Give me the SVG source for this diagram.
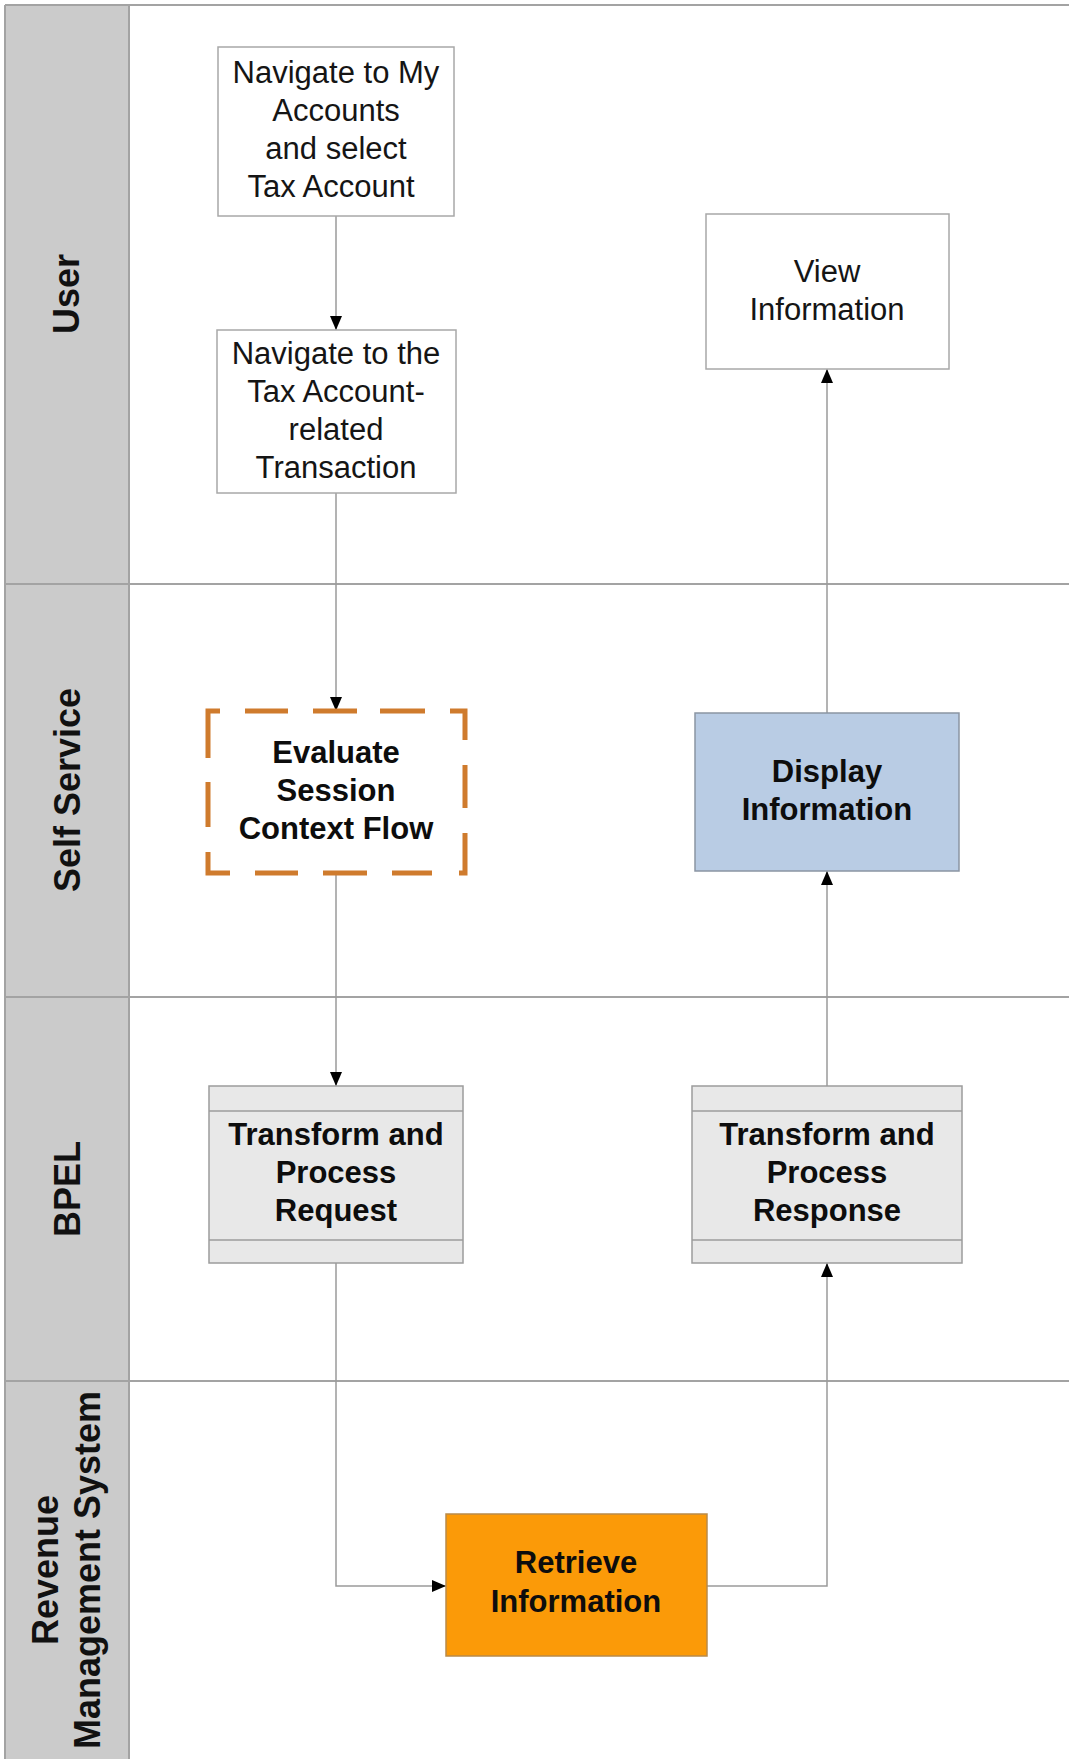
<svg xmlns="http://www.w3.org/2000/svg" width="1069" height="1759" viewBox="0 0 1069 1759">
  <style>
    .lane-head { fill: #cbcbcb; }
    .lane-line { stroke: #a3a3a3; stroke-width: 2; fill: none; }
    .lane-label { font-family: "Liberation Sans", Arial, sans-serif; font-size: 36px; font-weight: bold; fill: #111; text-anchor: middle; }
    .box { fill: #ffffff; stroke: #a8a8a8; stroke-width: 1.5; }
    .txt { font-family: "Liberation Sans", Arial, sans-serif; font-size: 31px; fill: #151515; text-anchor: middle; }
    .bold { font-weight: bold; fill: #0d0d0d; }
    .bpel { fill: #e8e8e8; stroke: #9c9c9c; stroke-width: 1.5; }
    .bpel-sep { stroke: #9c9c9c; stroke-width: 1.5; }
    .conn { fill: none; stroke: #9a9a9a; stroke-width: 1.5; }
    .dash { fill: none; stroke: #cf7b2d; stroke-width: 5; stroke-linecap: butt; }
  </style>
  <defs>
    <marker id="arrow" markerUnits="userSpaceOnUse" markerWidth="14" markerHeight="12" refX="14" refY="6" orient="auto">
      <path d="M0,0 L14,6 L0,12 z" fill="#000"/>
    </marker>
  </defs>

  <rect width="1069" height="1759" fill="#ffffff"/>

  <!-- swimlanes -->
  <g id="lanes">
    <rect class="lane-head" x="5" y="5" width="124" height="1754"/>
    <path class="lane-line" d="M5,5 H1069 M5,5 V1759 M129,5 V1759 M5,584 H1069 M5,997 H1069 M5,1381 H1069"/>
    <text class="lane-label" transform="translate(79,294) rotate(-90)">User</text>
    <text class="lane-label" transform="translate(80,790) rotate(-90)">Self Service</text>
    <text class="lane-label" transform="translate(80,1189) rotate(-90)">BPEL</text>
    <text class="lane-label" transform="translate(58,1570) rotate(-90)">Revenue</text>
    <text class="lane-label" transform="translate(100,1570) rotate(-90)">Management System</text>
  </g>

  <!-- connectors -->
  <g id="connectors">
    <path class="conn" d="M336,216 V330" marker-end="url(#arrow)"/>
    <path class="conn" d="M336,493 V711" marker-end="url(#arrow)"/>
    <path class="conn" d="M336,873 V1086" marker-end="url(#arrow)"/>
    <path class="conn" d="M336,1263 V1586 H446" marker-end="url(#arrow)"/>
    <path class="conn" d="M707,1586 H827 V1263" marker-end="url(#arrow)"/>
    <path class="conn" d="M827,1086 V871" marker-end="url(#arrow)"/>
    <path class="conn" d="M827,713 V369" marker-end="url(#arrow)"/>
  </g>

  <g id="navigate-accounts">
    <rect class="box" x="218" y="47" width="236" height="169"/>
    <text class="txt" x="336" y="83">Navigate to My</text>
    <text class="txt" x="336" y="121">Accounts</text>
    <text class="txt" x="336" y="159">and select</text>
    <text class="txt" x="331" y="197">Tax Account</text>
  </g>

  <g id="navigate-transaction">
    <rect class="box" x="217" y="330" width="239" height="163"/>
    <text class="txt" x="336" y="364">Navigate to the</text>
    <text class="txt" x="336" y="402">Tax Account-</text>
    <text class="txt" x="336" y="440">related</text>
    <text class="txt" x="336" y="478">Transaction</text>
  </g>

  <g id="view-information">
    <rect class="box" x="706" y="214" width="243" height="155"/>
    <text class="txt" x="827" y="282">View</text>
    <text class="txt" x="827" y="320">Information</text>
  </g>

  <g id="evaluate-session">
    <rect x="208" y="711" width="257" height="162" fill="#ffffff"/>
    <path class="dash" d="M208,758 V711 H220 M245,711 H288 M313,711 H357 M380,711 H425 M450,711 H465 V740 M465,765 V808 M465,833 V873 H459 M432,873 H392 M367,873 H323 M298,873 H255 M230,873 H208 V852 M208,827 V782"/>
    <text class="txt bold" x="336" y="763">Evaluate</text>
    <text class="txt bold" x="336" y="801">Session</text>
    <text class="txt bold" x="336" y="839">Context Flow</text>
  </g>

  <g id="display-information">
    <rect x="695" y="713" width="264" height="158" fill="#b9cce4" stroke="#8b95a3" stroke-width="1.5"/>
    <text class="txt bold" x="827" y="782">Display</text>
    <text class="txt bold" x="827" y="820">Information</text>
  </g>

  <g id="transform-request">
    <rect class="bpel" x="209" y="1086" width="254" height="177"/>
    <path class="bpel-sep" d="M209,1111 H463 M209,1240 H463"/>
    <text class="txt bold" x="336" y="1145">Transform and</text>
    <text class="txt bold" x="336" y="1183">Process</text>
    <text class="txt bold" x="336" y="1221">Request</text>
  </g>

  <g id="transform-response">
    <rect class="bpel" x="692" y="1086" width="270" height="177"/>
    <path class="bpel-sep" d="M692,1111 H962 M692,1240 H962"/>
    <text class="txt bold" x="827" y="1145">Transform and</text>
    <text class="txt bold" x="827" y="1183">Process</text>
    <text class="txt bold" x="827" y="1221">Response</text>
  </g>

  <g id="retrieve-information">
    <rect x="446" y="1514" width="261" height="142" fill="#fb9a08" stroke="#b98a4a" stroke-width="1.5"/>
    <text class="txt bold" x="576" y="1573" fill="#1f0f00">Retrieve</text>
    <text class="txt bold" x="576" y="1612" fill="#1f0f00">Information</text>
  </g>
</svg>
